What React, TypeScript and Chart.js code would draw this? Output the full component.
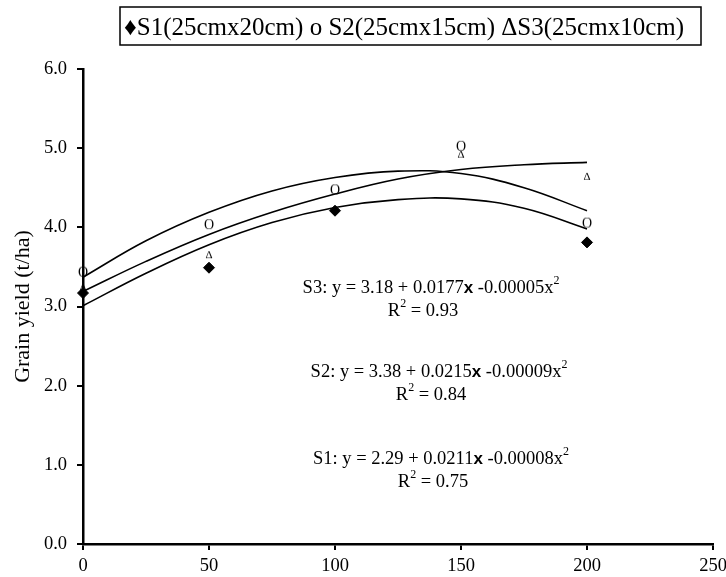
import React, { useEffect, useRef } from 'react';
import { Chart, registerables } from 'chart.js';

Chart.register(...registerables);

// ---- data ----
const s1X = [0, 50, 100, 200];
const s1Yield = [3.17, 3.49, 4.21, 3.81];
const s2X = [0, 50, 100, 150, 200];
const s2Yield = [3.44, 4.04, 4.48, 5.03, 4.06];
const s3X = [0, 50, 150, 200];
const s3Yield = [3.25, 3.66, 4.93, 4.65];

const curveX = [0, 25, 50, 75, 100, 125, 150, 175, 200];
const s1Curve = [3.01, 3.42, 3.78, 4.06, 4.25, 4.35, 4.36, 4.24, 3.98];
const s2Curve = [3.37, 3.83, 4.19, 4.46, 4.63, 4.71, 4.68, 4.5, 4.21];
const s3Curve = [3.19, 3.57, 3.91, 4.19, 4.42, 4.61, 4.73, 4.79, 4.82];

const xTickValues = [0, 50, 100, 150, 200, 250];
const yTickValues = [0, 1, 2, 3, 4, 5, 6];

const legendLabel = '\u2666S1(25cmx20cm) o S2(25cmx15cm) \u0394S3(25cmx10cm)';
const yTitle = 'Grain yield (t/ha)';

const eqNames = ['S3', 'S2', 'S1'];
const eqIntercepts = ['3.18', '3.38', '2.29'];
const eqLinear = ['0.0177', '0.0215', '0.0211'];
const eqQuad = ['0.00005', '0.00009', '0.00008'];
const eqR2 = ['0.93', '0.84', '0.75'];

const SERIF = "'Liberation Serif', 'Times New Roman', serif";
const SANS = "'Liberation Sans', Arial, sans-serif";

function glyphCanvas(ch: string, size: number, w: number, h: number) {
  const c = document.createElement('canvas');
  c.width = w;
  c.height = h;
  const g = c.getContext('2d')!;
  g.fillStyle = '#000';
  g.font = `${size}px ${SERIF}`;
  g.textAlign = 'center';
  g.textBaseline = 'middle';
  g.fillText(ch, w / 2, h / 2 + 1);
  return c;
}

const overlayPlugin = {
  id: 'overlay',
  afterDraw(chart: any) {
    const ctx = chart.ctx as CanvasRenderingContext2D;
    ctx.save();
    // legend box
    ctx.strokeStyle = '#000';
    ctx.lineWidth = 1.5;
    ctx.strokeRect(120, 7, 581, 38);
    ctx.fillStyle = '#000';
    ctx.font = `25px ${SERIF}`;
    ctx.textBaseline = 'alphabetic';
    ctx.textAlign = 'left';
    ctx.fillText(legendLabel, 124, 35);

    // equations
    const centers = [
      { x: 431, y: 288, ry: 311 },
      { x: 439, y: 372, ry: 395 },
      { x: 441, y: 459, ry: 482 },
    ];
    ctx.textBaseline = 'middle';
    for (let i = 0; i < eqNames.length; i++) {
      const parts: { t: string; f: string; dy: number }[] = [
        { t: `${eqNames[i]}: y = ${eqIntercepts[i]} + ${eqLinear[i]}`, f: `18.5px ${SERIF}`, dy: 0 },
        { t: 'x', f: `bold 17px ${SANS}`, dy: 0 },
        { t: ` -${eqQuad[i]}x`, f: `18.5px ${SERIF}`, dy: 0 },
        { t: '2', f: `12px ${SERIF}`, dy: -7 },
      ];
      let total = 0;
      for (const p of parts) {
        ctx.font = p.f;
        total += ctx.measureText(p.t).width;
      }
      let x = centers[i].x - total / 2;
      ctx.textAlign = 'left';
      for (const p of parts) {
        ctx.font = p.f;
        ctx.fillText(p.t, x, centers[i].y + p.dy);
        x += ctx.measureText(p.t).width;
      }
      // R2 line
      const r = [
        { t: 'R', f: `18.5px ${SERIF}`, dy: 0 },
        { t: '2', f: `12px ${SERIF}`, dy: -7 },
        { t: ` = ${eqR2[i]}`, f: `18.5px ${SERIF}`, dy: 0 },
      ];
      total = 0;
      for (const p of r) {
        ctx.font = p.f;
        total += ctx.measureText(p.t).width;
      }
      x = centers[i].x - 8 - total / 2;
      for (const p of r) {
        ctx.font = p.f;
        ctx.fillText(p.t, x, centers[i].ry + p.dy);
        x += ctx.measureText(p.t).width;
      }
    }
    ctx.restore();
  },
};

export default function App() {
  const ref = useRef<HTMLCanvasElement>(null);
  useEffect(() => {
    const oGlyph = glyphCanvas('O', 14, 12, 14);
    const triGlyph = glyphCanvas('\u0394', 11, 10, 12);
    const pts = (xs: number[], ys: number[]) => xs.map((x, i) => ({ x, y: ys[i] }));
    const curveDs = (ys: number[]) => ({
      type: 'line' as const,
      data: pts(curveX, ys),
      borderColor: '#000',
      borderWidth: 1.6,
      pointRadius: 0,
      showLine: true,
      fill: false,
      tension: 0.4,
    });
    const chart = new Chart(ref.current!, {
      type: 'scatter',
      data: {
        datasets: [
          curveDs(s1Curve),
          curveDs(s2Curve),
          curveDs(s3Curve),
          {
            data: pts(s3X, s3Yield),
            pointStyle: triGlyph as any,
            pointRadius: 5,
            showLine: false,
            clip: false,
          },
          {
            data: pts(s2X, s2Yield),
            pointStyle: oGlyph as any,
            pointRadius: 6,
            showLine: false,
            clip: false,
          },
          {
            data: pts(s1X, s1Yield),
            pointStyle: 'rectRot',
            pointRadius: 5.5,
            backgroundColor: '#000',
            borderColor: '#000',
            borderWidth: 1,
            showLine: false,
            clip: false,
          },
        ] as any,
      },
      options: {
        animation: false,
        responsive: false,
        devicePixelRatio: 1,
        layout: { padding: { top: 69, right: 13, bottom: 0, left: 0 } },
        plugins: { legend: { display: false }, tooltip: { enabled: false } },
        scales: {
          x: {
            type: 'linear',
            min: 0,
            max: 250,
            afterBuildTicks: (s: any) => {
              s.ticks = xTickValues.map((v) => ({ value: v }));
            },
            afterFit: (s: any) => {
              s.height = 33;
              s.paddingLeft = 0;
              s.paddingRight = 0;
            },
            ticks: {
              color: '#000',
              font: { family: SERIF, size: 18.5 },
              padding: 5,
              maxRotation: 0,
            },
            grid: { drawOnChartArea: false, drawTicks: true, tickLength: 6, color: '#000', lineWidth: 2 },
            border: { display: true, color: '#000', width: 2.5 },
          },
          y: {
            type: 'linear',
            min: 0,
            max: 6,
            afterBuildTicks: (s: any) => {
              s.ticks = yTickValues.map((v) => ({ value: v }));
            },
            afterFit: (s: any) => {
              s.width = 83;
              s.paddingTop = 0;
              s.paddingBottom = 0;
            },
            ticks: {
              color: '#000',
              font: { family: SERIF, size: 18.5 },
              padding: 10,
              callback: (v: any) => Number(v).toFixed(1),
            },
            title: {
              display: true,
              text: yTitle,
              color: '#000',
              font: { family: SERIF, size: 22 },
              padding: { top: 10, bottom: 0 },
            },
            grid: { drawOnChartArea: false, drawTicks: true, tickLength: 6, color: '#000', lineWidth: 2 },
            border: { display: true, color: '#000', width: 2.5 },
          },
        },
      } as any,
      plugins: [overlayPlugin],
    });
    return () => chart.destroy();
  }, []);
  return (
    <div style={{ position: 'fixed', left: 0, top: 0, width: 726, height: 577, background: '#fff' }}>
      <canvas ref={ref} width={726} height={577} style={{ display: 'block', width: 726, height: 577 }} />
    </div>
  );
}
